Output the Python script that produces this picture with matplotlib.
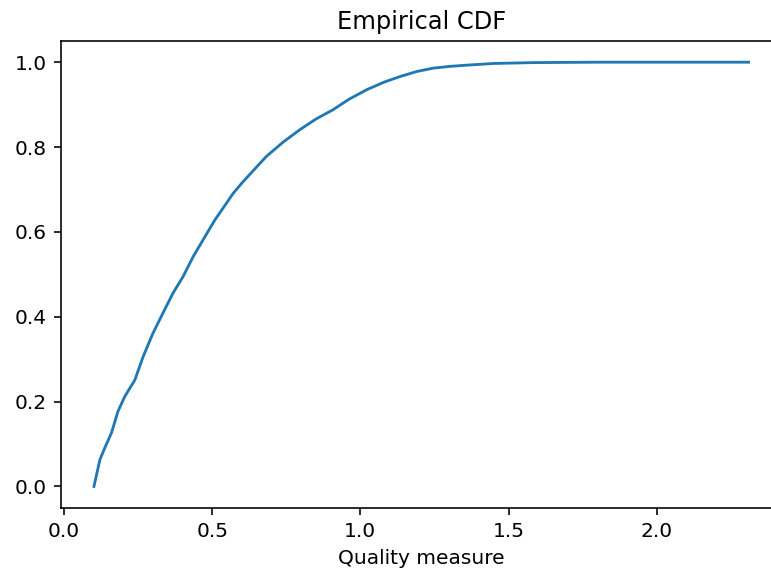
import numpy as np
from matplotlib import pyplot as plt

# Empirical CDF of the quality measure (sampled along the curve)
quality = [0.101, 0.121, 0.137, 0.160, 0.182, 0.205, 0.239, 0.267, 0.300,
           0.334, 0.368, 0.402, 0.436, 0.469, 0.509, 0.571, 0.600, 0.630,
           0.683, 0.740, 0.796, 0.850, 0.908, 0.960, 1.021, 1.080, 1.133,
           1.190, 1.246, 1.300, 1.359, 1.450, 1.583, 1.800, 2.000, 2.310]
cdf = [0.000, 0.063, 0.090, 0.126, 0.177, 0.212, 0.251, 0.306, 0.361,
       0.409, 0.456, 0.495, 0.542, 0.581, 0.628, 0.691, 0.715, 0.738,
       0.778, 0.812, 0.841, 0.866, 0.888, 0.912, 0.935, 0.953, 0.966,
       0.978, 0.986, 0.990, 0.993, 0.997, 0.999, 1.000, 1.000, 1.000]

scale = 1.45
plt.rcParams['font.family'] = 'DejaVu Sans'
plt.rcParams['font.size'] = 10 * scale
plt.rcParams['axes.linewidth'] = 0.8 * scale
plt.rcParams['xtick.major.size'] = 3.5 * scale
plt.rcParams['ytick.major.size'] = 3.5 * scale
plt.rcParams['xtick.major.width'] = 0.8 * scale
plt.rcParams['ytick.major.width'] = 0.8 * scale
plt.rcParams['xtick.major.pad'] = 3.5 * scale
plt.rcParams['ytick.major.pad'] = 3.5 * scale

fig = plt.figure(figsize=(7.71, 5.82), dpi=100)
# axes runs slightly past the right edge of the figure
ax = fig.add_axes([0.0794, 0.1277, 0.934, 0.8019])

ax.plot(quality, cdf, color='#1f77b4', linewidth=1.4 * scale)
ax.set_title('Empirical CDF', fontsize=12 * scale, pad=6 * scale)
ax.set_xlabel('Quality measure', labelpad=4 * scale)
ax.set_xticks([0.0, 0.5, 1.0, 1.5, 2.0])
ax.set_yticks([0.0, 0.2, 0.4, 0.6, 0.8, 1.0])

fig.savefig('out.png', dpi=100)
